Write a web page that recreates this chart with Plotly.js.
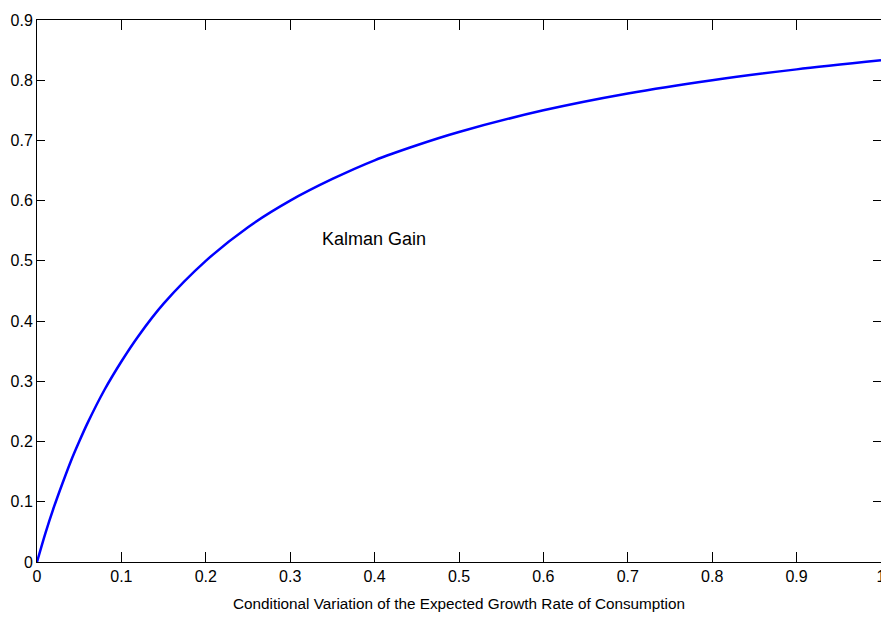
<!DOCTYPE html>
<html>
<head>
<meta charset="utf-8">
<script src="https://cdn.plot.ly/plotly-3.0.1.min.js"></script>
<style>
  html, body { margin: 0; padding: 0; background: #ffffff; }
  #chart { width: 881px; height: 623px; }
</style>
</head>
<body>
<div id="chart"></div>
<script>
// Conditional variance of expected consumption growth (x) against the Kalman gain (y)
const variance = [0, 0.01, 0.02, 0.03, 0.04, 0.05, 0.06, 0.08, 0.10, 0.12, 0.15,
                  0.20, 0.25, 0.30, 0.35, 0.40, 0.45, 0.50, 0.60, 0.70, 0.80, 0.90, 1.00];
const kalmanGain = [0, 0.048, 0.091, 0.130, 0.167, 0.200, 0.231, 0.286, 0.333, 0.375, 0.429,
                    0.500, 0.556, 0.600, 0.636, 0.667, 0.692, 0.714, 0.750, 0.778, 0.800, 0.818, 0.833];

const xTicks = [0, 0.1, 0.2, 0.3, 0.4, 0.5, 0.6, 0.7, 0.8, 0.9, 1];
const xTickLabels = ['0', '0.1', '0.2', '0.3', '0.4', '0.5', '0.6', '0.7', '0.8', '0.9', '1'];
const yTicks = [0, 0.1, 0.2, 0.3, 0.4, 0.5, 0.6, 0.7, 0.8, 0.9];
const yTickLabels = ['0', '0.1', '0.2', '0.3', '0.4', '0.5', '0.6', '0.7', '0.8', '0.9'];

const curveLabel = 'Kalman Gain';
const xTitle = 'Conditional Variation of the Expected Growth Rate of Consumption';

const family = 'Liberation Sans, Arial, sans-serif';
const tickFont = { family: family, size: 16, color: '#000000' };
const titleFont = { family: family, size: 15.3, color: '#000000' };

const trace = {
  x: variance,
  y: kalmanGain,
  type: 'scatter',
  mode: 'lines',
  line: { color: '#0000ff', width: 2.5, shape: 'spline', smoothing: 0.8 },
  hoverinfo: 'skip'
};

const axisCommon = {
  showgrid: false,
  zeroline: false,
  showline: true,
  linecolor: '#000000',
  linewidth: 1,
  mirror: 'allticks',
  ticks: 'inside',
  tickcolor: '#000000',
  tickwidth: 1,
  tickmode: 'array',
  tickfont: tickFont,
  ticklabeloverflow: 'allow',
  fixedrange: true
};

const layout = {
  width: 881,
  height: 623,
  margin: { l: 37, r: 0, t: 20, b: 61 },
  paper_bgcolor: '#ffffff',
  plot_bgcolor: '#ffffff',
  font: tickFont,
  showlegend: false,
  xaxis: Object.assign({}, axisCommon, {
    range: [0, 1],
    tickvals: xTicks,
    ticktext: xTickLabels,
    ticklen: 10,
    title: { text: xTitle, font: titleFont, standoff: 14 }
  }),
  yaxis: Object.assign({}, axisCommon, {
    range: [0, 0.9],
    tickvals: yTicks,
    ticktext: yTickLabels,
    ticklen: 8
  }),
  annotations: [{
    x: 0.335,
    y: 0.536,
    xref: 'x',
    yref: 'y',
    text: curveLabel,
    showarrow: false,
    xanchor: 'left',
    yanchor: 'middle',
    font: { family: family, size: 18, color: '#000000' }
  }]
};

Plotly.newPlot('chart', [trace], layout, { displayModeBar: false, staticPlot: true });
</script>
</body>
</html>
